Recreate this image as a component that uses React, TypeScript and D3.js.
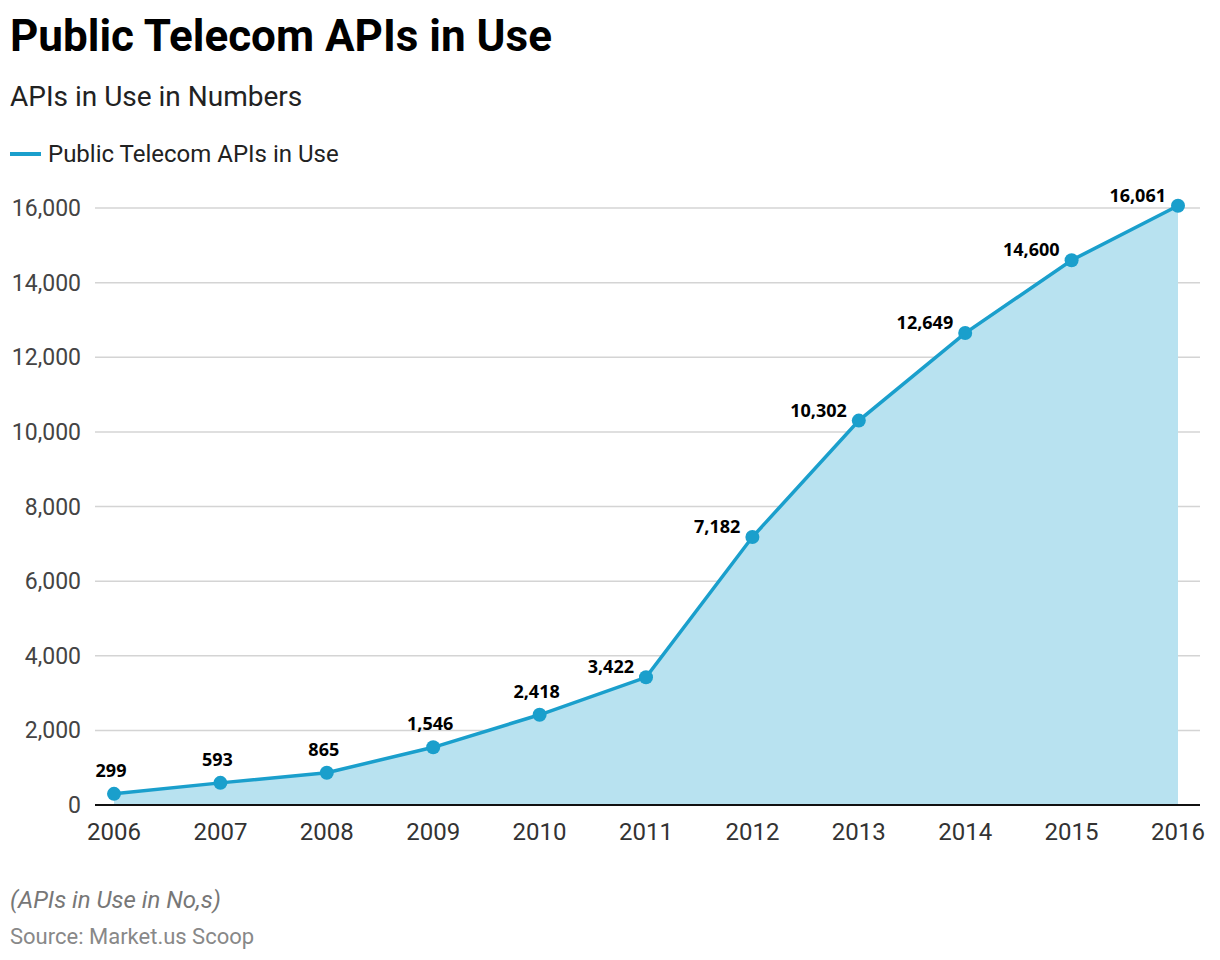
import * as d3 from 'd3'

const years = ['2006', '2007', '2008', '2009', '2010', '2011', '2012', '2013', '2014', '2015', '2016']
const apis = [299, 593, 865, 1546, 2418, 3422, 7182, 10302, 12649, 14600, 16061]
const yTicks = [0, 2000, 4000, 6000, 8000, 10000, 12000, 14000, 16000]

const W = 1220
const H = 960
const left = 95
const right = 1200
const top = 208
const bottom = 805

const App = () => {
  const x = d3.scalePoint<string>().domain(years).range([114, 1178])
  const y = d3.scaleLinear().domain([0, 16000]).range([bottom, top])
  const fmt = d3.format(',')

  const line = d3.line<number>().x((_, i) => x(years[i])!).y(d => y(d))
  const area = d3.area<number>().x((_, i) => x(years[i])!).y0(y(0)).y1(d => y(d))

  const lineColor = '#1a9fcc'

  return (
    <svg width={W} height={H} style={{ position: 'absolute', left: 0, top: 0, background: '#fff' }}>
      <rect width={W} height={H} fill="#fff" />
      <text x={10} y={51} fontFamily="Roboto" fontWeight={700} fontSize={44} fill="#000">Public Telecom APIs in Use</text>
      <text x={10} y={106} fontFamily="Roboto" fontSize={28} fill="#222">APIs in Use in Numbers</text>
      <line x1={10} x2={41} y1={154} y2={154} stroke={lineColor} strokeWidth={4} />
      <text x={48} y={162} fontFamily="Roboto" fontSize={24} fill="#222">Public Telecom APIs in Use</text>

      {/* grid + y labels */}
      {yTicks.map(t => (
        <g key={t}>
          {t > 0 && <line x1={left} x2={right} y1={y(t)} y2={y(t)} stroke="#d4d4d4" strokeWidth={1.5} />}
          <text x={81} y={y(t) + 8} textAnchor="end" fontFamily="Roboto" fontSize={23} fill="#444">{fmt(t)}</text>
        </g>
      ))}

      <path d={area(apis) || ''} fill="#b8e2f0" />
      <path d={line(apis) || ''} fill="none" stroke={lineColor} strokeWidth={3.5} />
      <line x1={left} x2={right} y1={bottom} y2={bottom} stroke="#111" strokeWidth={2} />

      {apis.map((v, i) => (
        <circle key={i} cx={x(years[i])} cy={y(v)} r={7} fill={lineColor} />
      ))}

      {apis.map((v, i) => {
        const px = x(years[i])!
        const py = y(v)
        const steep = i >= 5
        return (
          <text
            key={'l' + i}
            x={steep ? px - 12 : px - 3}
            y={steep ? py - 4 : py - 17}
            textAnchor={steep ? 'end' : 'middle'}
            fontFamily="Open Sans"
            fontWeight={700}
            fontSize={18}
            fill="#000"
          >{fmt(v)}</text>
        )
      })}

      {years.map(yr => (
        <text key={yr} x={x(yr)} y={840} textAnchor="middle" fontFamily="Roboto" fontSize={24} fill="#333">{yr}</text>
      ))}

      <text x={10} y={908} fontFamily="Roboto" fontStyle="italic" fontSize={24} fill="#777">(APIs in Use in No,s)</text>
      <text x={10} y={944} fontFamily="Roboto" fontSize={22} fill="#888">Source: Market.us Scoop</text>
    </svg>
  )
}

export default App
